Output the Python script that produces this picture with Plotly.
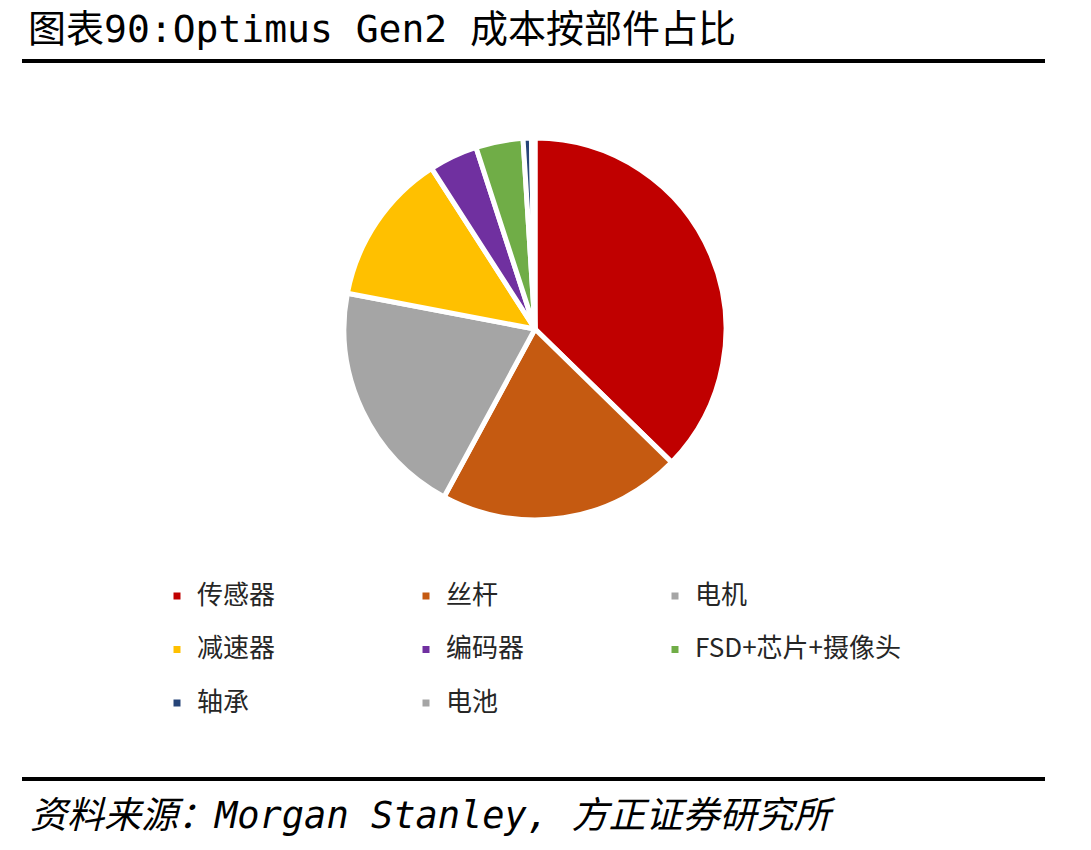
import plotly.graph_objects as go

W, H = 1091, 850
ML, MR, MT, MB = 0, 150, 0, 0
PW, PH = W - ML - MR, H - MT - MB

def px(x):
    return (x - ML) / PW

def py(y):
    return 1 - (y - MT) / PH

# ---- data ----
categories = ["传感器", "丝杆", "电机", "减速器", "编码器", "FSD+芯片+摄像头", "轴承", "电池"]
shares = [37.3, 20.6, 20.1, 12.9, 4.1, 4.0, 0.7, 0.3]
colors = ["#C00000", "#C55A11", "#A5A5A5", "#FFC000", "#7030A0", "#70AD47", "#264478", "#A5A5A5"]

title_text = "图表90:Optimus Gen2 成本按部件占比"
source_text = "资料来源：Morgan Stanley, 方正证券研究所"

legend_labels = ["<span style='font-size:26px'>%s</span><br>" % c for c in categories]

cx, cy, r = 535, 329, 191

fig = go.Figure(go.Pie(
    labels=legend_labels,
    values=shares,
    sort=False,
    direction="clockwise",
    rotation=0,
    textinfo="none",
    hoverinfo="skip",
    marker=dict(colors=colors, line=dict(color="white", width=5)),
    domain=dict(x=[px(cx - r), px(cx + r)], y=[py(cy + r), py(cy - r)]),
))

fig.update_layout(
    width=W, height=H,
    margin=dict(l=ML, r=MR, t=MT, b=MB),
    paper_bgcolor="white", plot_bgcolor="white",
    font=dict(family="Noto Sans CJK SC", color="#000000"),
    showlegend=True,
    legend=dict(
        orientation="h",
        x=px(157), xanchor="left",
        y=py(577), yanchor="top",
        entrywidth=204, entrywidthmode="pixels",
        valign="top",
        font=dict(size=19.4, family="Noto Sans CJK SC", color="#262626"),
        bgcolor="rgba(0,0,0,0)",
        traceorder="normal",
    ),
    shapes=[
        dict(type="line", xref="paper", yref="paper", x0=px(22), x1=px(1045), y0=py(61), y1=py(61),
             line=dict(color="black", width=4)),
        dict(type="line", xref="paper", yref="paper", x0=px(22), x1=px(1045), y0=py(779), y1=py(779),
             line=dict(color="black", width=4)),
    ],
    annotations=[
        dict(text=title_text, xref="paper", yref="paper", x=px(26), y=py(29),
             xanchor="left", yanchor="middle", showarrow=False,
             font=dict(size=38, family="DejaVu Sans Mono, Noto Sans CJK SC", color="black")),
        dict(text="<i>" + source_text + "</i>", xref="paper", yref="paper", x=px(28), y=py(815),
             xanchor="left", yanchor="middle", showarrow=False,
             font=dict(size=37, family="DejaVu Sans Mono, Noto Sans CJK SC", color="black")),
    ],
)

fig.write_html("out.html")
